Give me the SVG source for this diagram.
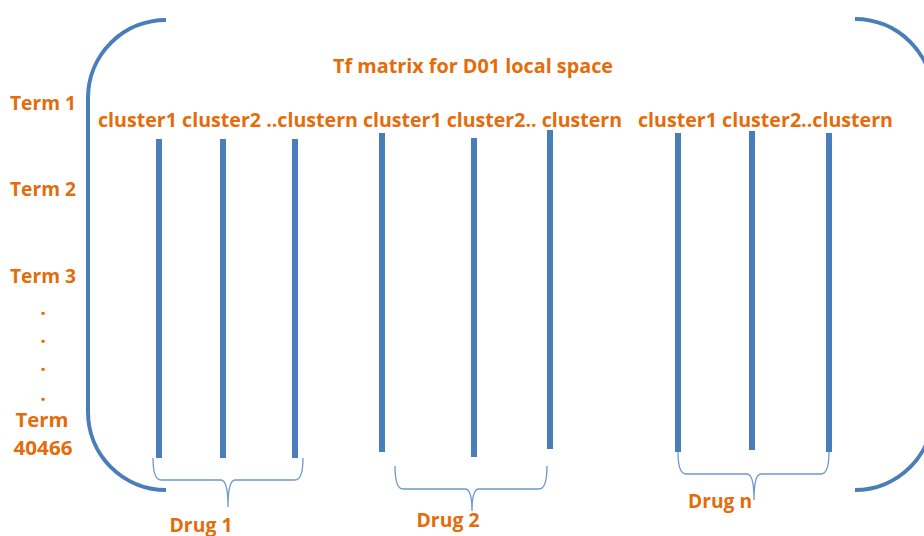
<svg xmlns="http://www.w3.org/2000/svg" width="924" height="536" viewBox="0 0 924 536">
  <style>
    .lbl { font-family: "Open Sans", "Liberation Sans", sans-serif; font-weight: bold; font-size: 20px; fill: #E46C0A; }
    .bracket { fill: none; stroke: #4A7EBB; stroke-width: 4; }
    .bar { stroke: #4A7EBB; stroke-width: 6; }
    .brace { fill: none; stroke: #6E97CF; stroke-width: 1.3; }
  </style>
  <rect width="924" height="536" fill="#ffffff"/>

  <!-- matrix brackets -->
  <g id="brackets">
    <path class="bracket" d="M166,20 A78,78 0 0 0 88,98 L88,412 A78,78 0 0 0 166,490"/>
    <path class="bracket" d="M855,19 A78,78 0 0 1 933,97 L933,412 A78,78 0 0 1 855,490"/>
  </g>

  <g id="title">
    <text class="lbl" x="473" y="73" text-anchor="middle" textLength="280" lengthAdjust="spacingAndGlyphs">Tf matrix for D01 local space</text>
  </g>

  <!-- term row labels -->
  <g id="terms">
    <text class="lbl" x="43" y="110" text-anchor="middle" textLength="66" lengthAdjust="spacingAndGlyphs">Term 1</text>
    <text class="lbl" x="43" y="196" text-anchor="middle" textLength="66" lengthAdjust="spacingAndGlyphs">Term 2</text>
    <text class="lbl" x="43" y="283" text-anchor="middle" textLength="66" lengthAdjust="spacingAndGlyphs">Term 3</text>
    <text class="lbl" x="43" y="315" text-anchor="middle">.</text>
    <text class="lbl" x="43" y="343" text-anchor="middle">.</text>
    <text class="lbl" x="43" y="371" text-anchor="middle">.</text>
    <text class="lbl" x="43" y="401" text-anchor="middle">.</text>
    <text class="lbl" x="42" y="427" text-anchor="middle" textLength="53" lengthAdjust="spacingAndGlyphs">Term</text>
    <text class="lbl" x="43" y="455" text-anchor="middle" textLength="59" lengthAdjust="spacingAndGlyphs">40466</text>
  </g>

  <!-- drug 1 -->
  <g id="drug1">
    <text class="lbl" x="98" y="127" textLength="260" lengthAdjust="spacingAndGlyphs">cluster1 cluster2 ..clustern</text>
    <line class="bar" x1="159" y1="139" x2="159" y2="458"/>
    <line class="bar" x1="223" y1="139" x2="223" y2="458"/>
    <line class="bar" x1="295" y1="139" x2="295" y2="458"/>
    <path class="brace" d="M153,458 Q153,480 161,480 L221,480 Q228,480 228,507 Q228,480 235,480 L295,480 Q303,480 303,458"/>
    <text class="lbl" x="201" y="532" text-anchor="middle" textLength="63" lengthAdjust="spacingAndGlyphs">Drug 1</text>
  </g>

  <!-- drug 2 -->
  <g id="drug2">
    <text class="lbl" x="363" y="127" textLength="259" lengthAdjust="spacingAndGlyphs">cluster1 cluster2.. clustern</text>
    <line class="bar" x1="382" y1="133" x2="382" y2="452"/>
    <line class="bar" x1="474" y1="138" x2="474" y2="457"/>
    <line class="bar" x1="550" y1="130" x2="550" y2="449"/>
    <path class="brace" d="M395,466 Q395,489 403,489 L465,489 Q472,489 472,511 Q472,489 479,489 L539,489 Q547,489 547,466"/>
    <text class="lbl" x="448" y="527" text-anchor="middle" textLength="63" lengthAdjust="spacingAndGlyphs">Drug 2</text>
  </g>

  <!-- drug n -->
  <g id="drugn">
    <text class="lbl" x="638" y="127" textLength="255" lengthAdjust="spacingAndGlyphs">cluster1 cluster2..clustern</text>
    <line class="bar" x1="678" y1="133" x2="678" y2="452"/>
    <line class="bar" x1="752" y1="131" x2="752" y2="450"/>
    <line class="bar" x1="829" y1="133" x2="829" y2="452"/>
    <path class="brace" d="M678,452 Q678,474 686,474 L747,474 Q754,474 754,500 Q754,474 761,474 L821,474 Q829,474 829,452"/>
    <text class="lbl" x="720" y="508" text-anchor="middle" textLength="64" lengthAdjust="spacingAndGlyphs">Drug n</text>
  </g>
</svg>
